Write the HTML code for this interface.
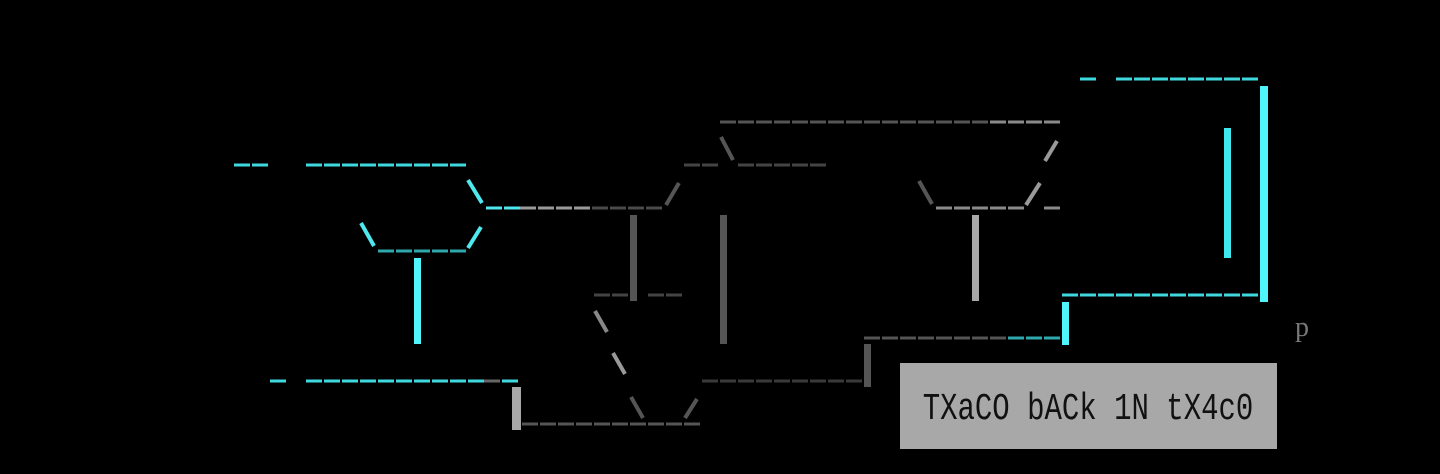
<!DOCTYPE html>
<html><head><meta charset="utf-8"><style>
html,body{margin:0;padding:0;background:#000;width:1440px;height:474px;overflow:hidden}
svg{display:block}
</style></head><body>
<svg width="1440" height="474" viewBox="0 0 1440 474" xmlns="http://www.w3.org/2000/svg">
<rect width="1440" height="474" fill="#000"/>
<g stroke-width="3" stroke-dasharray="16 2" fill="none">
 <line x1="234" y1="165" x2="268" y2="165" stroke="#3fd8de"/>
 <line x1="306" y1="165" x2="466" y2="165" stroke="#3fd8de"/>
 <line x1="486" y1="208" x2="520" y2="208" stroke="#4fe8ee"/>
 <line x1="520" y1="208" x2="592" y2="208" stroke="#9a9a9a"/>
 <line x1="592" y1="208" x2="664" y2="208" stroke="#4a4a4a"/>
 <line x1="378" y1="251" x2="466" y2="251" stroke="#2fa8ad"/>
 <line x1="270" y1="381" x2="286" y2="381" stroke="#3fd8de"/>
 <line x1="306" y1="381" x2="484" y2="381" stroke="#3fd8de"/>
 <line x1="484" y1="381" x2="502" y2="381" stroke="#666"/>
 <line x1="502" y1="381" x2="520" y2="381" stroke="#3fd8de"/>
 <line x1="522" y1="424" x2="700" y2="424" stroke="#555"/>
 <line x1="594" y1="295" x2="628" y2="295" stroke="#444"/>
 <line x1="648" y1="295" x2="682" y2="295" stroke="#444"/>
 <line x1="684" y1="165" x2="718" y2="165" stroke="#444"/>
 <line x1="738" y1="165" x2="826" y2="165" stroke="#444"/>
 <line x1="720" y1="122" x2="1060" y2="122" stroke="#555"/>
 <line x1="990" y1="122" x2="1060" y2="122" stroke="#8a8a8a"/>
 <line x1="936" y1="208" x2="1024" y2="208" stroke="#8a8a8a"/>
 <line x1="1044" y1="208" x2="1060" y2="208" stroke="#8a8a8a"/>
 <line x1="702" y1="381" x2="864" y2="381" stroke="#3a3a3a"/>
 <line x1="864" y1="338" x2="1008" y2="338" stroke="#555"/>
 <line x1="1008" y1="338" x2="1060" y2="338" stroke="#2fa8ad"/>
 <line x1="1062" y1="295" x2="1260" y2="295" stroke="#3fd8de"/>
 <line x1="1080" y1="79" x2="1096" y2="79" stroke="#3fd8de"/>
 <line x1="1116" y1="79" x2="1258" y2="79" stroke="#3fd8de"/>
</g>
<g stroke-width="4" stroke-linecap="butt">
 <line x1="468" y1="180" x2="482" y2="203" stroke="#4fe8ee"/>
 <line x1="361" y1="223" x2="374" y2="246" stroke="#4fe8ee"/>
 <line x1="481" y1="227" x2="468" y2="248" stroke="#4fe8ee"/>
 <line x1="679" y1="183" x2="666" y2="205" stroke="#555"/>
 <line x1="721" y1="137" x2="733" y2="160" stroke="#555"/>
 <line x1="919" y1="181" x2="932" y2="204" stroke="#555"/>
 <line x1="1040" y1="183" x2="1026" y2="205" stroke="#999"/>
 <line x1="1057" y1="141" x2="1045" y2="161" stroke="#999"/>
 <line x1="595" y1="311" x2="607" y2="332" stroke="#888"/>
 <line x1="613" y1="353" x2="625" y2="374" stroke="#999"/>
 <line x1="631" y1="397" x2="643" y2="418" stroke="#555"/>
 <line x1="697" y1="399" x2="685" y2="418" stroke="#555"/>
</g>
<rect x="414" y="258" width="7" height="86" fill="#4ff5fa"/>
<rect x="512" y="387" width="9" height="43" fill="#a8a8a8"/>
<rect x="630" y="215" width="7" height="86" fill="#555"/>
<rect x="720" y="215" width="7" height="129" fill="#555"/>
<rect x="972" y="215" width="7" height="86" fill="#a8a8a8"/>
<rect x="864" y="344" width="7" height="43" fill="#555"/>
<rect x="1062" y="302" width="7" height="43" fill="#4ff5fa"/>
<rect x="1260" y="86" width="8" height="216" fill="#4ff5fa"/>
<rect x="1224" y="128" width="7" height="130" fill="#3fe8ee"/>
<rect x="900" y="363" width="377" height="86" fill="#a8a8a8"/>
<text transform="translate(1088,419) scale(1,1.3)" x="0" y="0" text-anchor="middle" font-family="Liberation Mono, monospace" font-size="29" fill="#111">TXaCO bACk 1N tX4c0</text>
<text x="1295" y="336" font-family="Liberation Serif, serif" font-size="28" fill="#777">p</text>
</svg>
</body></html>
